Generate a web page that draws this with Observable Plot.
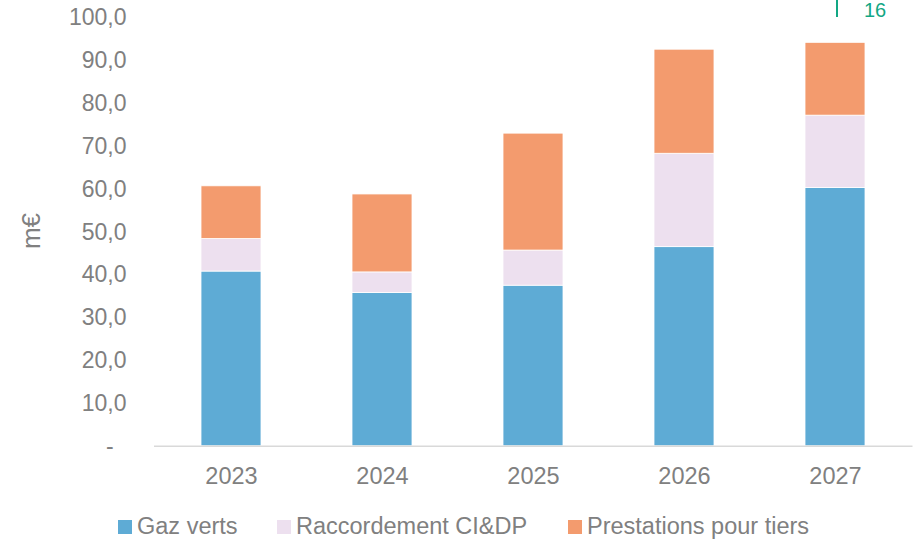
<!DOCTYPE html>
<html>
<head>
<meta charset="utf-8">
<script src="https://cdn.jsdelivr.net/npm/d3@7"></script>
<script src="https://cdn.jsdelivr.net/npm/@observablehq/plot@0.6"></script>
<style>
  html, body { margin: 0; padding: 0; background: #fff; }
  body { width: 917px; height: 541px; overflow: hidden; font-family: "Liberation Sans", Arial, sans-serif; }
  #wrap { position: relative; width: 917px; height: 541px; }
  #legend { position: absolute; left: 0; top: 507px; height: 40px; width: 917px; color: #808080; font-size: 23.5px; }
  .item { position: absolute; top: 8px; display: flex; align-items: center; white-space: nowrap; line-height: 1; }
  .sw { width: 14px; height: 14px; margin-right: 5px; }
  #ylab { position: absolute; left: 31px; top: 231px; transform: translate(-50%, -50%) rotate(-90deg); color: #808080; font-size: 26px; line-height: 1; white-space: nowrap; }
  #pg { position: absolute; left: 864px; top: 0px; color: #12a784; font-size: 20px; line-height: 1; }
  #pgline { position: absolute; left: 836px; top: 0; width: 1.5px; height: 17px; background: #12a784; }
</style>
</head>
<body>
<div id="wrap">
  <div id="chart"></div>
  <div id="legend"></div>
  <div id="ylab">m€</div>
  <div id="pgline"></div>
  <div id="pg">16</div>
</div>
<script>
const years = ["2023", "2024", "2025", "2026", "2027"];
const seriesNames = ["Gaz verts", "Raccordement CI&DP", "Prestations pour tiers"];
const gazVerts = [40.8, 35.8, 37.5, 46.5, 60.3];
const raccordement = [7.6, 4.8, 8.2, 21.8, 16.9];
const prestations = [12.3, 18.2, 27.3, 24.3, 17.0];
const colors = ["#5eabd5", "#ede0ef", "#f39b6e"];
const yTicks = [0, 10, 20, 30, 40, 50, 60, 70, 80, 90, 100];

const seriesValues = [gazVerts, raccordement, prestations];
const data = [];
seriesNames.forEach((s, i) => years.forEach((y, j) => data.push({year: y, series: s, value: seriesValues[i][j]})));

const fmt = d => d === 0 ? "-\u00a0\u00a0" : d.toFixed(1).replace(".", ",");

const chart = Plot.plot({
  width: 917,
  height: 505,
  marginTop: 17.5,
  marginBottom: 59.2,
  marginLeft: 154,
  marginRight: 4.5,
  style: {fontFamily: '"Liberation Sans", Arial, sans-serif', fontSize: "23px", color: "#808080", background: "white"},
  x: {domain: years, paddingInner: 0.6, paddingOuter: 0.3, label: null},
  y: {domain: [0, 100], label: null},
  color: {domain: seriesNames, range: colors},
  marks: [
    Plot.barY(data, {x: "year", y: "value", fill: "series", stroke: "white", strokeWidth: 0.8}),
    Plot.ruleY([0], {stroke: "#d9d9d9", strokeWidth: 1.5}),
    Plot.axisX({tickSize: 0, tickPadding: 21, fontSize: 23.5, fill: "#808080", label: null}),
    Plot.axisY({ticks: yTicks, tickSize: 0, tickPadding: 28, tickFormat: fmt, fontSize: 23, fill: "#808080", label: null})
  ]
});
document.getElementById("chart").appendChild(chart);

const legend = document.getElementById("legend");
const lx = [118, 277, 568];
seriesNames.forEach((s, i) => {
  const it = document.createElement("div");
  it.className = "item";
  it.style.left = lx[i] + "px";
  const sw = document.createElement("div");
  sw.className = "sw";
  sw.style.background = colors[i];
  const t = document.createElement("span");
  t.textContent = s;
  it.appendChild(sw); it.appendChild(t);
  legend.appendChild(it);
});
</script>
</body>
</html>
